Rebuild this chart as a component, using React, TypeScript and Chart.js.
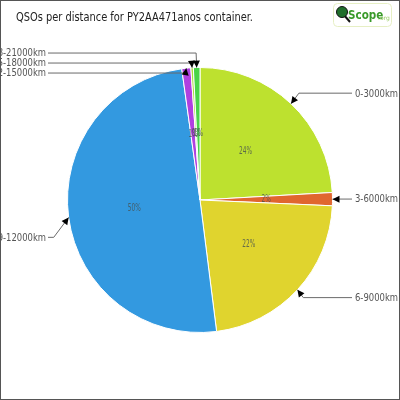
import React, { useEffect, useRef } from "react";
import { Chart, registerables } from "chart.js";

Chart.register(...registerables);

const TITLE = "QSOs per distance for PY2AA471anos container.";
const categories = ["0-3000km", "3-6000km", "6-9000km", "9-12000km", "12-15000km", "15-18000km", "18-21000km"];
const qsoCounts = [241, 16, 223, 498, 11, 3, 8];
const sliceColors = ["#bde12f", "#e0662f", "#e0d42e", "#3399e0", "#b040e0", "#a8dc3c", "#48d448"];
const labelNudge = [0, 0, -2, 18, 0, 0, 0];

const FONT = "'DejaVu Sans', sans-serif";

// draw text horizontally squeezed by factor sx
function squeezedText(ctx: CanvasRenderingContext2D, text: string, x: number, y: number, sx: number, align: "left" | "right" | "center") {
  ctx.save();
  ctx.translate(x, y);
  ctx.scale(sx, 1);
  ctx.textAlign = align;
  ctx.fillText(text, 0, 0);
  ctx.restore();
}

const overlayPlugin = {
  id: "overlay",
  afterDraw(chart: any) {
    const ctx: CanvasRenderingContext2D = chart.ctx;
    const meta = chart.getDatasetMeta(0);
    const arcs = meta.data as any[];
    const total = qsoCounts.reduce((a, b) => a + b, 0);
    ctx.save();

    // percent labels
    ctx.font = `10px ${FONT}`;
    ctx.fillStyle = "rgba(70,80,80,0.8)";
    ctx.textBaseline = "middle";
    const pctSx = 13 / ctx.measureText("24%").width;
    arcs.forEach((arc, i) => {
      const a = (arc.startAngle + arc.endAngle) / 2;
      const r = arc.outerRadius * 0.5;
      const pct = Math.round((qsoCounts[i] / total) * 100);
      squeezedText(ctx, pct + "%", arc.x + r * Math.cos(a), arc.y + r * Math.sin(a), pctSx, "center");
    });

    // leader labels
    type L = { i: number; a: number; tipX: number; tipY: number; ly: number; side: number; theta: number };
    const items: L[] = arcs.map((arc, i) => {
      const a = (arc.startAngle + arc.endAngle) / 2;
      const R = arc.outerRadius;
      const tipX = arc.x + R * Math.cos(a);
      const tipY = arc.y + R * Math.sin(a);
      const side = Math.cos(a) >= -0.0001 ? 1 : -1;
      const ly = arc.y + 147 * Math.sin(a) + labelNudge[i];
      let theta = (a + Math.PI / 2) * 180 / Math.PI;
      theta = ((theta % 360) + 360) % 360;
      return { i, a, tipX, tipY, ly, side, theta };
    });
    const left = items.filter((d) => d.side < 0).sort((p, q) => q.theta - p.theta);
    for (let k = 1; k < left.length; k++) {
      if (left[k].ly < left[k - 1].ly + 10) left[k].ly = left[k - 1].ly + 10;
    }
    const right = items.filter((d) => d.side > 0).sort((p, q) => p.theta - q.theta);
    for (let k = 1; k < right.length; k++) {
      if (right[k].ly < right[k - 1].ly + 10) right[k].ly = right[k - 1].ly + 10;
    }

    ctx.font = `11px ${FONT}`;
    const labSx = 43 / ctx.measureText("-12000km").width;
    items.forEach((d) => {
      const dy = d.ly - d.tipY;
      const horiz = Math.min(1, 2 * Math.abs(Math.cos(d.a)));
      const ex = d.tipX + d.side * 0.75 * Math.abs(dy) * horiz;
      const ey = d.ly;
      const endX = d.side > 0 ? 352 : 48;
      ctx.strokeStyle = "#6a6a6a";
      ctx.lineWidth = 1;
      ctx.beginPath();
      ctx.moveTo(d.tipX, d.tipY);
      ctx.lineTo(ex, ey);
      ctx.lineTo(endX, ey);
      ctx.stroke();
      // arrowhead
      let vx = d.tipX - ex;
      let vy = d.tipY - ey;
      let len = Math.hypot(vx, vy);
      if (len < 2) {
        vx = d.tipX - endX;
        vy = 0;
        len = Math.abs(vx);
      }
      const ux = vx / len;
      const uy = vy / len;
      const L = 7, W = 3.5;
      ctx.fillStyle = "#000";
      ctx.beginPath();
      ctx.moveTo(d.tipX, d.tipY);
      ctx.lineTo(d.tipX - ux * L - uy * W, d.tipY - uy * L + ux * W);
      ctx.lineTo(d.tipX - ux * L + uy * W, d.tipY - uy * L - ux * W);
      ctx.closePath();
      ctx.fill();
      // text
      ctx.fillStyle = "#555";
      ctx.textBaseline = "middle";
      squeezedText(ctx, categories[d.i], d.side > 0 ? 355 : 46, ey + 0.5, labSx, d.side > 0 ? "left" : "right");
    });

    // title
    ctx.textBaseline = "alphabetic";
    ctx.fillStyle = "#222";
    ctx.font = `12.5px ${FONT}`;
    const titleSx = 237 / ctx.measureText(TITLE).width;
    squeezedText(ctx, TITLE, 16, 21, titleSx, "left");

    // logo
    ctx.strokeStyle = "#e6efc4";
    ctx.lineWidth = 1;
    ctx.beginPath();
    (ctx as any).roundRect(333.5, 3.5, 58, 23, 4);
    ctx.stroke();
    ctx.strokeStyle = "#111";
    ctx.lineWidth = 2;
    ctx.beginPath();
    ctx.moveTo(344, 15);
    ctx.lineTo(350, 22);
    ctx.stroke();
    ctx.fillStyle = "#1f6e2a";
    ctx.beginPath();
    ctx.arc(342, 12, 5.5, 0, Math.PI * 2);
    ctx.fill();
    ctx.strokeStyle = "#111";
    ctx.lineWidth = 1;
    ctx.stroke();
    ctx.fillStyle = "#3a9a2a";
    ctx.font = `bold 13px ${FONT}`;
    squeezedText(ctx, "Scope", 348, 19, 0.8, "left");
    ctx.fillStyle = "#9ccf6a";
    ctx.font = `6px ${FONT}`;
    ctx.textAlign = "left";
    ctx.fillText(".org", 378, 20);

    // border
    ctx.strokeStyle = "#555";
    ctx.lineWidth = 1;
    ctx.strokeRect(0.5, 0.5, 399, 399);
    ctx.restore();
  },
};

export default function App() {
  const ref = useRef<HTMLCanvasElement>(null);
  useEffect(() => {
    if (!ref.current) return;
    const chart = new Chart(ref.current, {
      type: "pie",
      data: {
        labels: categories,
        datasets: [
          {
            data: qsoCounts,
            backgroundColor: sliceColors,
            borderColor: "#ffffff",
            borderWidth: 1,
          },
        ],
      },
      options: {
        responsive: false,
        animation: false,
        devicePixelRatio: 1,
        layout: { padding: { left: 67, right: 67, top: 67, bottom: 67 } },
        plugins: {
          legend: { display: false },
          tooltip: { enabled: false },
          title: { display: false },
        },
      },
      plugins: [overlayPlugin],
    });
    return () => chart.destroy();
  }, []);
  return (
    <div style={{ position: "fixed", left: 0, top: 0, width: 400, height: 400, background: "#fff" }}>
      <canvas ref={ref} width={400} height={400} style={{ display: "block" }} />
    </div>
  );
}
